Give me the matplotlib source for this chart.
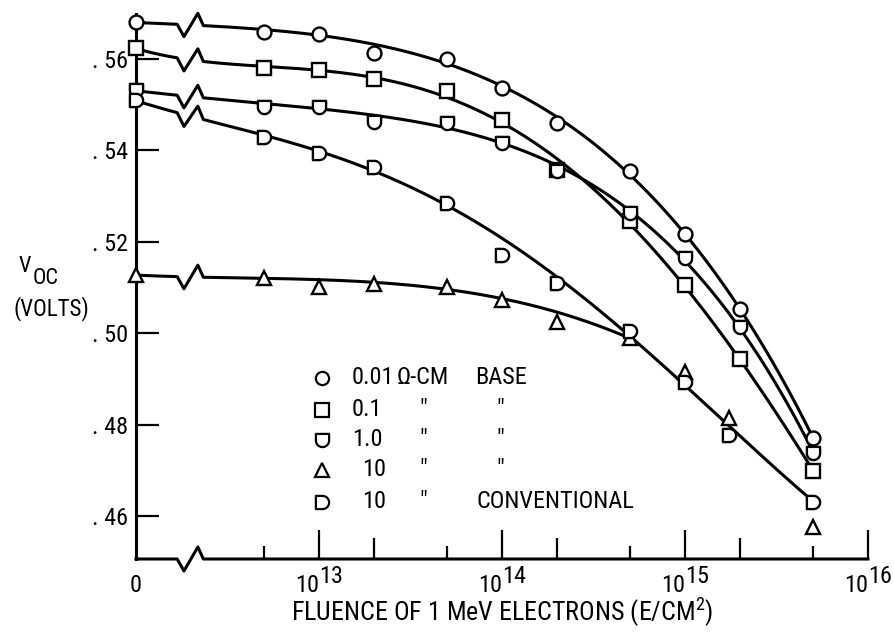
import numpy as np
import matplotlib
matplotlib.use("Agg")
import matplotlib.pyplot as plt
from matplotlib import font_manager as fm
from matplotlib.path import Path
from matplotlib.ticker import FixedLocator, NullFormatter, NullLocator

# fluence of 1 MeV electrons (E/cm^2); 0 = unirradiated
fluence = [0, 5e12, 1e13, 2e13, 5e13, 1e14, 2e14, 5e14, 1e15, 2e15, 5e15]
fluence_10 = [0, 5e12, 1e13, 2e13, 5e13, 1e14, 2e14, 5e14, 1e15, 1.75e15, 5e15]

# Voc (volts)
voc_001 = [0.5681, 0.5659, 0.5655, 0.5613, 0.5600, 0.5537, 0.5460, 0.5355, 0.5217, 0.5053, 0.4771]
voc_01 = [0.5624, 0.5580, 0.5576, 0.5556, 0.5530, 0.5467, 0.5357, 0.5245, 0.5105, 0.4944, 0.4698]
voc_1 = [0.5532, 0.5495, 0.5495, 0.5462, 0.5460, 0.5416, 0.5355, 0.5263, 0.5165, 0.5014, 0.4738]
voc_10 = [0.5127, 0.5121, 0.5101, 0.5108, 0.5101, 0.5073, 0.5025, 0.4989, 0.4915, 0.4814, 0.4576]
voc_10c = [0.5510, 0.5429, 0.5394, 0.5364, 0.5285, 0.5171, 0.5110, 0.5005, 0.4893, 0.4778, 0.4631]

# points the faired curves do not pass through, and where a curve stops
skip_001, skip_01, skip_1, skip_10, skip_10c = [3], [], [3], [2, 6], [5, 7, 9]
last_10 = 7

legend_num = ["0.01", "0.1", "1.0", "10", "10"]
yticks = [0.46, 0.48, 0.50, 0.52, 0.54, 0.56]
ytick_labels = [". 46", ". 48", ". 50", ". 52", ". 54", ". 56"]
xmajor = [1e13, 1e14, 1e15, 1e16]
xmajor_exp = ["13", "14", "15", "16"]
xminor2 = [2e13, 2e14, 2e15]
xminor5 = [5e12, 5e13, 5e14, 5e15]

ZERO_AT = 1e12  # where fluence 0 sits on the broken axis
BREAK_DEC = np.array([0.225, 0.262, 0.338, 0.368])  # decades after ZERO_AT


def have(name):
    try:
        fm.findfont(fm.FontProperties(family=name), fallback_to_default=False)
        return True
    except ValueError:
        return False


FONT, FS = "DejaVu Sans", 14.5
for name, size in [("Roboto Condensed", 17.5), ("Liberation Sans Narrow", 17.5), ("DejaVu Sans Condensed", 16)]:
    if have(name):
        FONT, FS = name, size
        break
plt.rcParams["font.family"] = [FONT, "DejaVu Sans"]
plt.rcParams["mathtext.fontset"] = "custom"
plt.rcParams["mathtext.rm"] = FONT


def axis_pos(x):
    x = np.asarray(x, float)
    return np.where(x > 0, x, ZERO_AT)


# marker shapes
th = np.linspace(0, np.pi, 25)
cup = Path([(-1, 1), (1, 1)] + [(np.cos(-a), np.sin(-a)) for a in th] + [(-1, 1)], closed=True)
dee = Path([(-1, -1), (-1, 1)] + [(np.cos(np.pi / 2 - a), np.sin(np.pi / 2 - a)) for a in th] + [(-1, -1)],
           closed=True)

series = [
    (fluence, voc_001, "o", skip_001, None),
    (fluence, voc_01, "s", skip_01, None),
    (fluence, voc_1, cup, skip_1, None),
    (fluence_10, voc_10, "^", skip_10, last_10),
    (fluence_10, voc_10c, dee, skip_10c, None),
]

fig = plt.figure(figsize=(8.95, 6.38), dpi=100)
ax = fig.add_axes([136 / 895, 1 - 559 / 638, 732 / 895, 545 / 638])
ax.set_xscale("log")
ax.set_xlim(1e12, 1e16)
ax.set_ylim(0.45059, 0.56985)

dy_break = 12 / 545 * (0.56985 - 0.45059)
for x, y, mk, skip, last in series:
    u = np.log10(axis_pos(x))
    y = np.asarray(y)
    keep = [i for i in range(len(u)) if i not in skip and (last is None or i <= last)]
    uk, yk = u[keep], y[keep]
    coef = np.polyfit(uk, yk, 4 if len(uk) > 6 else 3)
    ug = np.union1d(np.linspace(uk[0], uk[-1], 500), 12 + BREAK_DEC)
    yg = np.polyval(coef, ug) + np.interp(ug, 12 + BREAK_DEC, [0, -dy_break, dy_break, 0], left=0, right=0)
    ax.plot(10**ug, yg, color="black", lw=2.2, zorder=2, clip_on=False)
    ax.plot(axis_pos(x), y, ls="none", marker=mk, ms=10 if mk == "o" else 9.5, mfc="white",
            mec="black", mew=1.7, zorder=3, clip_on=False)

# spines and ticks
for s in ["top", "right", "bottom"]:
    ax.spines[s].set_visible(False)
ax.spines["left"].set_linewidth(2.2)
bx = np.concatenate([[12], 12 + BREAK_DEC, [16]])
ax.plot(10**bx, [0, 0, -0.022, 0.022, 0, 0], color="black", lw=2.2,
        transform=ax.get_xaxis_transform(), clip_on=False, zorder=4)

ax.set_yticks(yticks)
ax.set_yticklabels(ytick_labels)
ax.tick_params(axis="y", direction="in", length=16.5, width=1.6, pad=6, labelsize=FS)
ax.xaxis.set_major_locator(FixedLocator(xmajor))
ax.xaxis.set_major_formatter(NullFormatter())
ax.xaxis.set_minor_locator(FixedLocator(xminor2))
ax.xaxis.set_minor_formatter(NullFormatter())
ax.tick_params(axis="x", which="major", direction="in", length=21, width=1.6)
ax.tick_params(axis="x", which="minor", direction="in", length=15, width=1.6)

sec = ax.secondary_xaxis("bottom", functions=(lambda v: v, lambda v: v))
sec.xaxis.set_major_locator(FixedLocator(xminor5))
sec.xaxis.set_major_formatter(NullFormatter())
sec.xaxis.set_minor_locator(NullLocator())
sec.spines["bottom"].set_visible(False)
sec.tick_params(axis="x", direction="in", length=9.5, width=1.6)

# x tick labels: "10" + raised exponent, baseline aligned with "0"
tx = ax.get_xaxis_transform()
ax.text(ZERO_AT, -0.0606, "0", transform=tx, ha="center", va="baseline", fontsize=FS)
for v, e in zip(xmajor, xmajor_exp):
    ax.text(v, -0.0606, "10", transform=tx, ha="right", va="baseline", fontsize=FS)
    ax.text(v, -0.044, e, transform=tx, ha="left", va="baseline", fontsize=FS)

ax.text(0.5, -0.098, "FLUENCE OF 1 MeV ELECTRONS (E/CM$^{2}$)", transform=ax.transAxes,
        ha="center", va="center", fontsize=FS + 1.2)


def fx(px):
    return px / 895


def fy(py):
    return 1 - py / 638


fig.text(fx(19), fy(267), "V", ha="left", va="center", fontsize=FS - 1.5)
fig.text(fx(33), fy(279), "OC", ha="left", va="center", fontsize=FS - 1.5)
fig.text(fx(51), fy(309), "(VOLTS)", ha="center", va="center", fontsize=FS - 1)

# legend block
rows = [378, 410, 440, 470, 502]
for (x, y, mk, skip, last), num, ry in zip(series, legend_num, rows):
    ax.plot([fx(322)], [fy(ry)], ls="none", marker=mk, ms=9.5, mfc="white", mec="black", mew=1.6,
            transform=fig.transFigure, clip_on=False)
    fig.text(fx(352) if num != "10" else fx(362), fy(ry), num, ha="left", va="center", fontsize=FS)
fig.text(fx(397), fy(378), "Ω-CM", ha="left", va="center", fontsize=FS)
fig.text(fx(475), fy(378), "BASE", ha="left", va="center", fontsize=FS)
for ry in rows[1:]:
    fig.text(fx(423), fy(ry), '"', ha="center", va="center", fontsize=FS)
for ry in rows[1:4]:
    fig.text(fx(500), fy(ry), '"', ha="center", va="center", fontsize=FS)
fig.text(fx(477), fy(502), "CONVENTIONAL", ha="left", va="center", fontsize=FS)

fig.savefig("out.png", dpi=100)
